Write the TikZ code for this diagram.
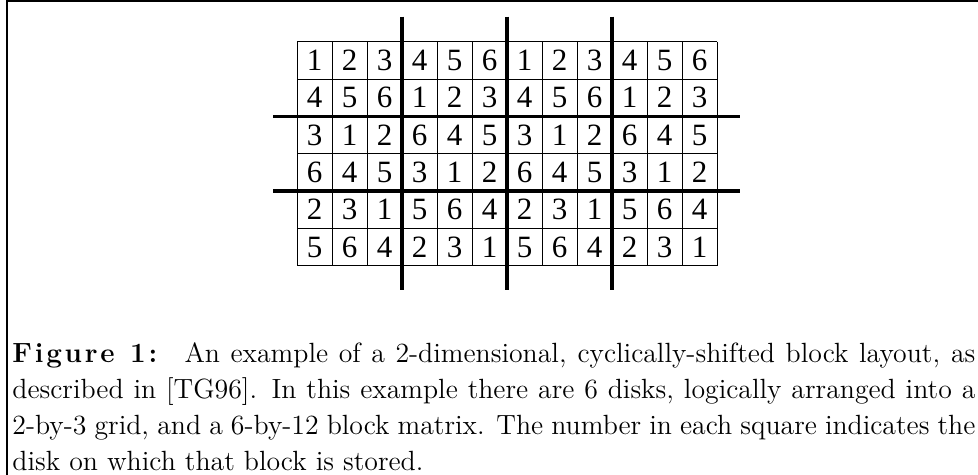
\documentclass[tikz,border=0pt]{standalone}
\usepackage{fontspec}
\newfontfamily\cellfont{Liberation Serif}
\newfontfamily\labelfont{Latin Modern Roman}[LetterSpace=10]
\usetikzlibrary{positioning}
\newcommand{\blockrow}[2]{\foreach \v [count=\i from 0] in {#2} \node[cell] (b#1-\i) at (314.5+35*\i,60.37+37.33*#1){\v};}

\begin{document}
\begin{tikzpicture}[x=.5pt,y=-.5pt,
  cell/.style={font=\cellfont\fontsize{15.5}{18}\selectfont,inner sep=0},
  gridline/.style={line width=.5pt},
  sepline/.style={line width=1.65pt},
  captext/.style={font=\fontsize{13.9}{18}\selectfont,text width=481.5pt,align=justify,inner sep=0}]
\useasboundingbox (0,0) rectangle (978,475);
\draw[line width=1pt] (7,475)--(7,1)--(978,1);
% block matrix, 6 by 12
\foreach \i in {0,...,12} \draw[gridline] (297+35*\i,41.7)--(297+35*\i,265.7);
\foreach \j in {0,...,6} \draw[gridline] (297,41.7+37.33*\j)--(717,41.7+37.33*\j);
\blockrow{0}{1,2,3,4,5,6,1,2,3,4,5,6}
\blockrow{1}{4,5,6,1,2,3,4,5,6,1,2,3}
\blockrow{2}{3,1,2,6,4,5,3,1,2,6,4,5}
\blockrow{3}{6,4,5,3,1,2,6,4,5,3,1,2}
\blockrow{4}{2,3,1,5,6,4,2,3,1,5,6,4}
\blockrow{5}{5,6,4,2,3,1,5,6,4,2,3,1}
% 2-by-3 disk grid
\draw[sepline] (402,16.7)--(402,290);\draw[sepline] (507,16.7)--(507,290);\draw[sepline] (612,16.7)--(612,290);
\draw[sepline] (273.3,116.4)--(739.7,116.4);\draw[sepline] (273.3,191)--(739.7,191);
\node[captext,anchor=north west] (cap) at (12,336.8){\noindent\strut{\labelfont\bfseries Figure 1:}\hspace{6pt} An example of a 2-dimensional, cyclically-shifted block layout, as\linebreak
described in [TG96]. In this example there are 6 disks, logically arranged into a\linebreak
2-by-3 grid, and a 6-by-12 block matrix. The number in each square indicates the\linebreak
disk on which that block is stored.};
\end{tikzpicture}
\end{document}
